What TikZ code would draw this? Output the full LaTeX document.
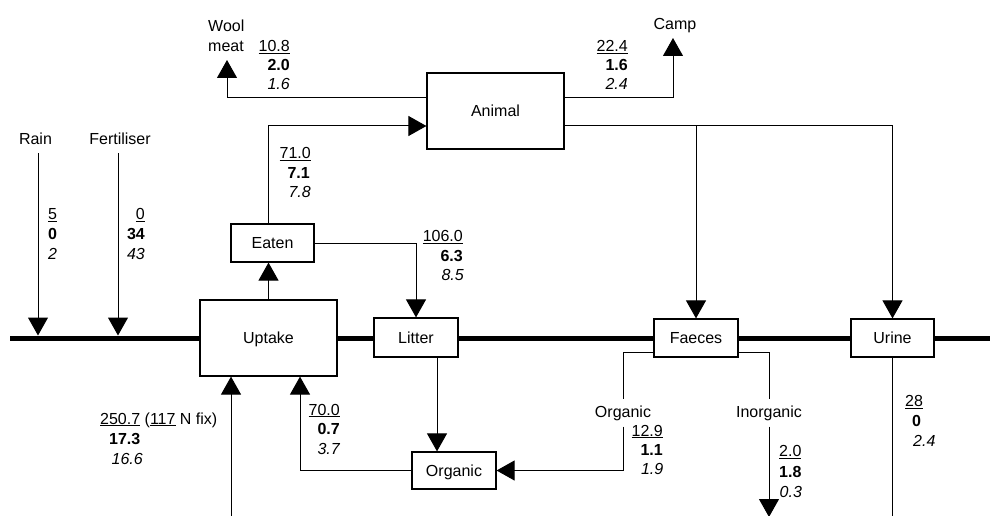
\documentclass[tikz,border=0pt]{standalone}
\usepackage{fontspec}
\setmainfont{Liberation Sans}
\usetikzlibrary{arrows.meta,backgrounds}
\begin{document}
\begin{tikzpicture}[x=1pt,y=-1pt,
  every node/.style={font=\fontsize{16}{19}\selectfont, inner sep=0pt},
  box/.style={draw, line width=1.2pt, fill=white, text height=11.5pt, text depth=0pt, align=center},
  conn/.style={line width=1pt},
  arr/.style={conn, -{Triangle[width=20pt,length=18pt]}},
  soil/.style={line width=5pt},
  flowlab/.style={anchor=base, inner xsep=2pt, inner ysep=6pt},
  rnum/.style={anchor=base east},
  lnum/.style={anchor=base west}
]
\useasboundingbox (0,0) rectangle (990,516);

% boxes
\node[box, minimum width=137pt, minimum height=76pt] (uptake) at (268.5,338) {Uptake};
\node[box, minimum width=83pt, minimum height=38pt] (eaten) at (272.5,243) {Eaten};
\node[box, minimum width=137pt, minimum height=76pt] (animal) at (495.5,111) {Animal};
\node[box, minimum width=84pt, minimum height=39pt] (litter) at (416,337.5) {Litter};
\node[box, minimum width=84pt, minimum height=38pt] (faeces) at (696,338) {Faeces};
\node[box, minimum width=83pt, minimum height=38pt] (urine) at (892.5,338) {Urine};
\node[box, minimum width=84pt, minimum height=37pt] (organic) at (454,470.5) {Organic};

% free ends
\coordinate (soilL) at (10,338);
\coordinate (soilR) at (990,338);
\coordinate (rainA) at (38,153);
\coordinate (rainB) at (38,335.5);
\coordinate (fertA) at (118,153);
\coordinate (fertB) at (118,335.5);
\coordinate (wooltip) at (227,60);
\coordinate (camptip) at (673,38);
\coordinate (nfixbot) at (231,516);
\coordinate (fl) at (623,352);
\coordinate (fr) at (769,352);
\coordinate (inorgtip) at (769,517);
\coordinate (urinebot) at (892.5,516);

% background lines
\begin{scope}[on background layer]
  \draw[soil] (soilL) -- (soilR);
  \draw[conn] (fl) -- (fr);
\end{scope}

% labels
\node[anchor=base] (rain) at (35.5,145) {Rain};
\node[anchor=base] (fert) at (120,145) {Fertiliser};
\node[lnum] (wool) at (208,32) {Wool};
\node[lnum] (meat) at (208,51.5) {meat};
\node[anchor=base] (camp) at (675,29.5) {Camp};
\node[flowlab] (orglab) at (623,417) {Organic};
\node[flowlab] (inorglab) at (769,417) {Inorganic};

% numbers
\node[rnum] (w1) at (290,51.5) {\underline{10.8}};
\node[rnum] (w2) at (290,71) {\textbf{2.0}};
\node[rnum] (w3) at (290,90) {\textit{1.6}};

\node[rnum] (c1) at (628,51.5) {\underline{22.4}};
\node[rnum] (c2) at (628,70.5) {\textbf{1.6}};
\node[rnum] (c3) at (628,90) {\textit{2.4}};

\node[rnum] (e1) at (311,158.3) {\underline{71.0}};
\node[rnum] (e2) at (310,178) {\textbf{7.1}};
\node[rnum] (e3) at (311,197.7) {\textit{7.8}};

\node[rnum] (l1) at (463,241.7) {\underline{106.0}};
\node[rnum] (l2) at (463,261) {\textbf{6.3}};
\node[rnum] (l3) at (464,280.7) {\textit{8.5}};

\node[lnum] (r1) at (48,219.5) {\underline{5}};
\node[lnum] (r2) at (48,239.5) {\textbf{0}};
\node[lnum] (r3) at (48,259) {\textit{2}};

\node[rnum] (f1) at (145,219.5) {\underline{0}};
\node[rnum] (f2) at (145,239.5) {\textbf{34}};
\node[rnum] (f3) at (145,259) {\textit{43}};

\node[lnum] (n1) at (100,424) {\underline{250.7} (\underline{117} N fix)};
\node[lnum] (n2) at (109,444) {\textbf{17.3}};
\node[lnum] (n3) at (111.5,464) {\textit{16.6}};

\node[rnum] (o1) at (340,415) {\underline{70.0}};
\node[rnum] (o2) at (340,434.5) {\textbf{0.7}};
\node[rnum] (o3) at (340.5,454) {\textit{3.7}};

\node[rnum] (g1) at (663,436) {\underline{12.9}};
\node[rnum] (g2) at (663,455) {\textbf{1.1}};
\node[rnum] (g3) at (663.5,474) {\textit{1.9}};

\node[lnum] (i1) at (779,456.7) {\underline{2.0}};
\node[lnum] (i2) at (779,477) {\textbf{1.8}};
\node[lnum] (i3) at (779.5,497) {\textit{0.3}};

\node[lnum] (u1) at (905,406.7) {\underline{28}};
\node[lnum] (u2) at (912,426.7) {\textbf{0}};
\node[lnum] (u3) at (913,446.7) {\textit{2.4}};

% connectors
\draw[arr] (rainA) -- (rainB);
\draw[arr] (fertA) -- (fertB);
\draw[arr] (uptake.north) -- (uptake.north |- eaten.south);
\draw[arr] (uptake.north |- eaten.north) |- ([yshift=-15pt]animal.west);
\draw[arr] ([yshift=13pt]animal.west) -| (wooltip);
\draw[arr] ([yshift=13pt]animal.east) -| (camptip);
\draw[arr] ([yshift=-15pt]animal.east) -| (faeces.north);
\draw[arr] ([yshift=-15pt]animal.east) -| (urine.north);
\draw[arr] (eaten.east) -| (litter.north);
\draw[arr] ([xshift=21pt]litter.south) -- ([xshift=21pt]litter.south |- organic.north);
\draw[arr] (organic.west) -| ([xshift=31.5pt]uptake.south);
\draw[arr] (nfixbot) -- (nfixbot |- uptake.south);
\draw[conn] (fl) -- (orglab.north);
\draw[arr] (orglab.south) |- (organic.east);
\draw[conn] (fr) -- (inorglab.north);
\draw[arr] (inorglab.south) -- (inorgtip);
\draw[conn] (urine.south) -- (urinebot);
\end{tikzpicture}
\end{document}
